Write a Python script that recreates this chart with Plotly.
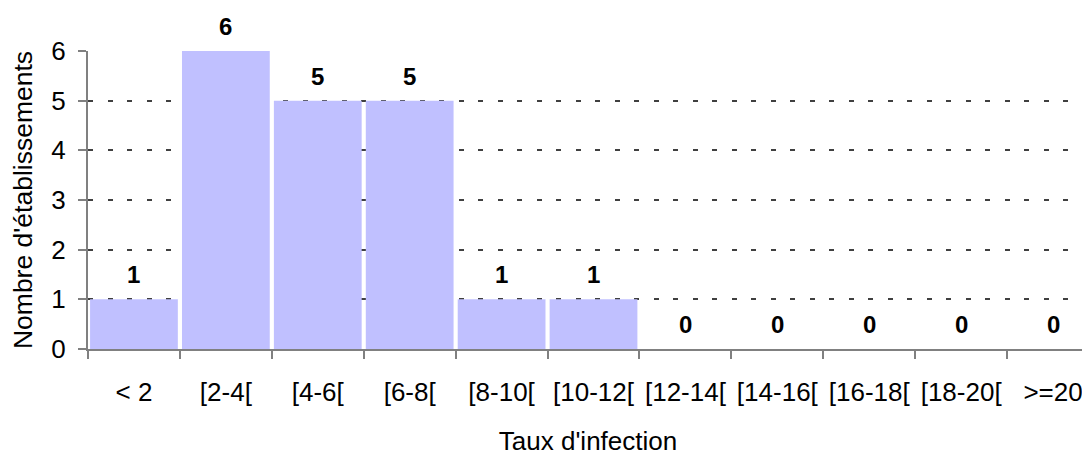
import plotly.graph_objects as go

categories = ["< 2", "[2-4[", "[4-6[", "[6-8[", "[8-10[", "[10-12[", "[12-14[",
              "[14-16[", "[16-18[", "[18-20[", ">=20"]
counts = [1, 6, 5, 5, 1, 1, 0, 0, 0, 0, 0]
x_title = "Taux d'infection"
y_title = "Nombre d'établissements"

FONT = "Liberation Sans, Arial, sans-serif"
BAR_COLOR = "#C0C0FF"
AXIS_COLOR = "#808080"

fig = go.Figure()
fig.add_trace(go.Bar(
    x=categories, y=counts, marker=dict(color=BAR_COLOR, line=dict(width=0)),
    width=0.955, hoverinfo="x+y", cliponaxis=False,
))

for c, v in zip(categories, counts):
    fig.add_annotation(x=c, y=v, text=f"<b>{v}</b>", showarrow=False,
                       yanchor="bottom", yshift=9,
                       font=dict(family=FONT, size=24, color="black"))

fig.update_layout(
    width=1082, height=448,
    margin=dict(l=80, r=2, t=43, b=107),
    paper_bgcolor="white", plot_bgcolor="white",
    showlegend=False,
    font=dict(family=FONT, size=25, color="black"),
    xaxis=dict(
        type="category", range=[-0.5, 10.38],
        tickson="boundaries", ticks="outside", ticklen=8, tickwidth=1.5,
        tickcolor=AXIS_COLOR, showline=True, linecolor=AXIS_COLOR, linewidth=2,
        showgrid=False, ticklabelstandoff=19,
        title=dict(text=x_title, standoff=28, font=dict(size=26)),
        tickfont=dict(size=26),
    ),
    yaxis=dict(
        range=[0, 6], dtick=1, ticks="outside", ticklen=8, tickwidth=1.5,
        tickcolor=AXIS_COLOR, showline=True, linecolor=AXIS_COLOR, linewidth=2,
        showgrid=True, gridcolor="#404040", gridwidth=1.5, griddash="5px,14.5px",
        zeroline=False, ticklabelstandoff=7,
        title=dict(text=y_title, standoff=14, font=dict(size=26.5)),
        tickfont=dict(size=26),
    ),
)

fig.write_html("out.html")
